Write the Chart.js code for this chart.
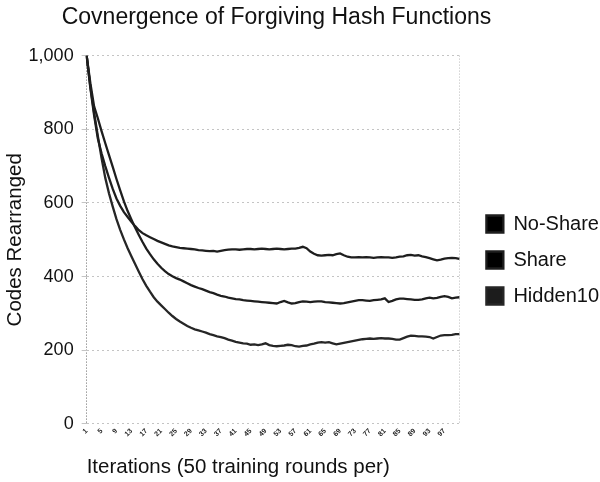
<!DOCTYPE html>
<html>
<head>
<meta charset="utf-8">
<script src="https://cdn.jsdelivr.net/npm/chart.js@4"></script>
<style>
  html, body { margin: 0; padding: 0; background: #fff; }
  #wrap { width: 600px; height: 482px; }
</style>
</head>
<body>
<div id="wrap"><canvas id="hashChart"></canvas></div>
<script>
// iteration index, one point per 50 training rounds
const iterations = Array.from({ length: 101 }, (_, i) => String(i + 1));

const noShare = [1000, 912, 838, 775, 735, 700, 668, 638, 612, 592,
  575, 562, 549, 537, 526, 518, 512, 507, 502, 497,
  493, 489, 485, 482, 480, 478, 477, 476, 475, 474,
  472, 471, 470, 469, 470, 468, 470, 472, 473, 474,
  474, 473, 474, 475, 475, 474, 475, 476, 475, 474,
  475, 476, 475, 474, 475, 476, 476, 478, 481, 477,
  468, 462, 458, 457, 458, 459, 458, 461, 463, 458,
  454, 452, 452, 453, 452, 453, 452, 451, 452, 453,
  452, 452, 451, 452, 454, 455, 458, 459, 457, 458,
  455, 453, 450, 447, 444, 446, 449, 450, 451, 450, 448];

const share = [1000, 925, 862, 830, 795, 762, 730, 698, 665, 634,
  604, 578, 555, 533, 513, 494, 476, 461, 447, 435,
  424, 415, 407, 401, 396, 392, 387, 382, 377, 373,
  369, 366, 362, 358, 355, 351, 348, 346, 343, 341,
  339, 338, 336, 335, 334, 333, 332, 331, 330, 329,
  328, 327, 331, 334, 330, 327, 328, 331, 333, 332,
  331, 332, 333, 333, 331, 330, 329, 328, 327, 328,
  330, 332, 334, 336, 336, 335, 334, 336, 337, 338,
  341, 331, 334, 338, 340, 340, 339, 338, 337, 337,
  338, 341, 343, 341, 342, 345, 347, 345, 341, 343, 344];

const hidden10 = [1000, 915, 845, 782, 722, 668, 626, 590, 556, 527,
  501, 477, 455, 434, 413, 393, 375, 359, 344, 332,
  322, 312, 302, 293, 285, 278, 272, 266, 261, 257,
  254, 251, 248, 244, 241, 238, 236, 233, 229, 226,
  223, 221, 219, 218, 215, 216, 214, 216, 219, 214,
  212, 211, 212, 213, 215, 214, 211, 210, 212, 213,
  216, 218, 221, 222, 221, 222, 219, 216, 218, 220,
  222, 224, 226, 228, 230, 231, 232, 231, 232, 233,
  232, 232, 231, 229, 229, 233, 237, 240, 239, 238,
  238, 237, 236, 232, 236, 240, 241, 241, 242, 244, 244];

const seriesNames = ['No-Share', 'Share', 'Hidden10'];
const yTicks = [0, 200, 400, 600, 800, 1000];

const FONT = 'Liberation Sans, Arial, sans-serif';

// nudge legend (down/right) and title (left) to where the original has them
const boxNudge = {
  id: 'boxNudge',
  afterLayout(chart) {
    const lg = chart.legend;
    lg.top += 18;
    lg.bottom += 18;
    lg.left += 11;
    lg.right += 11;
    const tb = chart.titleBlock;
    tb.left -= 18;
    tb.right -= 18;
  }
};

const ctx = document.getElementById('hashChart').getContext('2d');

const chart = new Chart(ctx, {
  type: 'line',
  data: {
    labels: iterations,
    datasets: [
      { label: seriesNames[0], data: noShare, borderColor: '#1e1e1e', backgroundColor: '#000' },
      { label: seriesNames[1], data: share, borderColor: '#1e1e1e', backgroundColor: '#000' },
      { label: seriesNames[2], data: hidden10, borderColor: '#262626', backgroundColor: '#1c1c1c' }
    ].map(d => Object.assign(d, { borderWidth: 2.3, pointRadius: 0, tension: 0, fill: false }))
  },
  options: {
    responsive: true,
    maintainAspectRatio: false,
    animation: false,
    layout: { padding: { top: 2, right: 2, left: -9, bottom: 0 } },
    plugins: {
      title: {
        display: true,
        text: 'Covnergence of Forgiving Hash Functions',
        color: '#111',
        font: { family: FONT, size: 23, weight: 'normal' },
        padding: { top: 2, bottom: 24 }
      },
      legend: {
        position: 'right',
        labels: {
          color: '#111',
          boxWidth: 17,
          boxHeight: 17,
          padding: 16,
          font: { family: FONT, size: 20 }
        }
      },
      tooltip: { enabled: false }
    },
    scales: {
      x: {
        border: { display: false, dash: [1, 2] },
        grid: {
          drawTicks: false,
          color: c => c.index === 0 ? '#666' : (c.index === iterations.length - 1 ? '#bbb' : 'rgba(0,0,0,0)')
        },
        ticks: {
          autoSkip: false,
          maxRotation: 45,
          minRotation: 45,
          padding: 3,
          color: '#222',
          font: { size: 7, weight: 'bold' },
          callback: (v, i) => (i % 4 === 0 && i < 100) ? iterations[i] : ''
        },
        title: {
          display: true,
          align: 'start',
          text: 'Iterations (50 training rounds per)',
          color: '#111',
          font: { family: FONT, size: 20.5 },
          padding: { top: 14, bottom: 2 }
        }
      },
      y: {
        min: 0,
        max: 1000,
        afterBuildTicks: s => { s.ticks = yTicks.map(v => ({ value: v })); },
        border: { display: false, dash: [2, 3] },
        grid: { color: '#c4c4c4', tickLength: 5 },
        ticks: {
          color: '#111',
          padding: 8,
          font: { family: FONT, size: 18 }
        },
        title: {
          display: true,
          text: 'Codes Rearranged',
          color: '#111',
          font: { family: FONT, size: 20.5 },
          padding: { top: 12, bottom: -7 }
        }
      }
    }
  },
  plugins: [boxNudge]
});
</script>
</body>
</html>
